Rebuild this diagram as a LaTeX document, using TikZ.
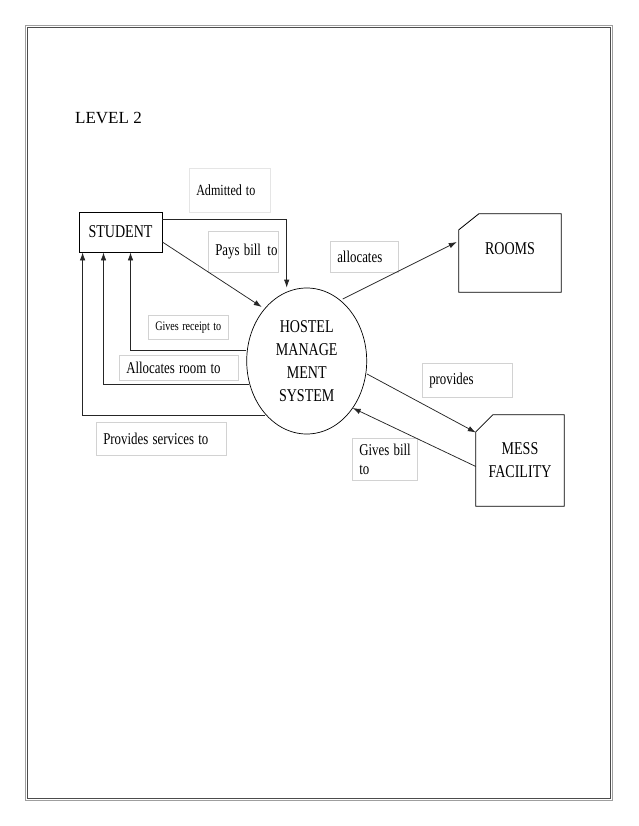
\documentclass[tikz,border=0pt]{standalone}
\usepackage{fontspec}
\setmainfont{Liberation Serif}
\usepackage{graphicx}
\usetikzlibrary{arrows.meta,shapes.geometric}
\newcommand{\nar}[1]{\scalebox{0.78}[1]{#1}}

\begin{document}
\begin{tikzpicture}[x=1pt, y=-1pt,
  flow/.style={draw=black!85, line width=0.75pt, -{Latex[length=8pt,width=5.5pt]}},
  entity/.style={inner sep=0pt, font=\fontsize{18}{23}\selectfont},
  lblbox/.style={draw=gray!35, line width=0.5pt, anchor=north west, align=left, inner xsep=7pt, inner ysep=0pt, font=\fontsize{16.5}{19}\selectfont},
]
\useasboundingbox (0,0) rectangle (638,826);

% page frame
\draw[gray!75, line width=1.6pt] (25.5,25.5) rectangle (612.5,800.5);
\draw[black!70, line width=0.4pt] (27.5,27.5) rectangle (610.5,798.5);

\node[anchor=west, inner sep=0pt, font=\fontsize{17}{20}\selectfont] (level) at (75,118) {LEVEL 2};

% entities and process
\node[draw, line width=0.8pt, entity, minimum width=83pt, minimum height=40pt] (student) at (120.5,232) {\nar{STUDENT}};
\node[draw, line width=0.7pt, ellipse, entity, minimum width=120pt, minimum height=146pt, align=center] (hms) at (306.7,361)
  {\nar{HOSTEL}\\\nar{MANAGE}\\\nar{MENT}\\\nar{SYSTEM}};
\node[entity, minimum width=102pt, minimum height=78pt, text height=12pt, text depth=10pt] (rooms) at (510,253) {\nar{ROOMS}};
\node[entity, minimum width=88pt, minimum height=91pt, align=center] (mess) at (520,460.5) {\nar{MESS}\\\nar{FACILITY}};

\draw[line width=0.8pt] ([yshift=-16pt]rooms.north west) -- ([xshift=20pt]rooms.north west) -- (rooms.north east)
  -- (rooms.south east) -- (rooms.south west) -- cycle;
\draw[line width=0.8pt] ([yshift=-17pt]mess.north west) -- ([xshift=17pt]mess.north west) -- (mess.north east)
  -- (mess.south east) -- (mess.south west) -- cycle;

% labels
\node[lblbox, draw=gray!20, text width=67pt, minimum height=44pt, font=\fontsize{15.5}{18}\selectfont] (admitted) at (189,168) {\nar{Admitted to}};
\node[lblbox, text width=56pt, minimum height=41pt] (paysbill) at (208,231) {\nar{Pays bill\, to}};
\node[lblbox, text width=66pt, minimum height=24pt, font=\fontsize{13}{16}\selectfont] (receipt) at (148,315) {\nar{Gives receipt to}};
\node[lblbox, text width=105pt, minimum height=25pt] (allocroom) at (119,355) {\nar{Allocates room to}};
\node[lblbox, text width=116pt, minimum height=33pt] (services) at (96,422) {\nar{Provides services to}};
\node[lblbox, text width=54pt, minimum height=31pt] (allocates) at (330,241) {\nar{allocates}};
\node[lblbox, text width=76pt, minimum height=34pt] (provides) at (422,363) {\nar{provides}};
\node[lblbox, text width=51pt, minimum height=42pt] (givesbill) at (352,438) {\nar{Gives bill}\\\nar{to}};

% flows
\draw[flow] ([yshift=-8pt]student.north east) -| ([xshift=-20pt]hms.north);
\draw[flow] ([yshift=-10pt]student.east) -- ([shift={(-45pt,54pt)}]hms.center);
\draw[flow] ([yshift=11pt]hms.west) -| ([xshift=10pt]student.south);
\draw[flow] ([shift={(3pt,-23pt)}]hms.west) -| ([xshift=-17pt]student.south);
\draw[flow] ([shift={(19pt,-54pt)}]hms.west) -| ([xshift=4pt]student.south west);
\draw[flow] ([shift={(36pt,62pt)}]hms.center) -- ([shift={(-2pt,11pt)}]rooms.west);
\draw[flow] ([yshift=-13pt]hms.east) -- ([yshift=28pt]mess.west);
\draw[flow] ([yshift=-6pt]mess.west) -- ([shift={(46pt,-47pt)}]hms.center);
\end{tikzpicture}
\end{document}
